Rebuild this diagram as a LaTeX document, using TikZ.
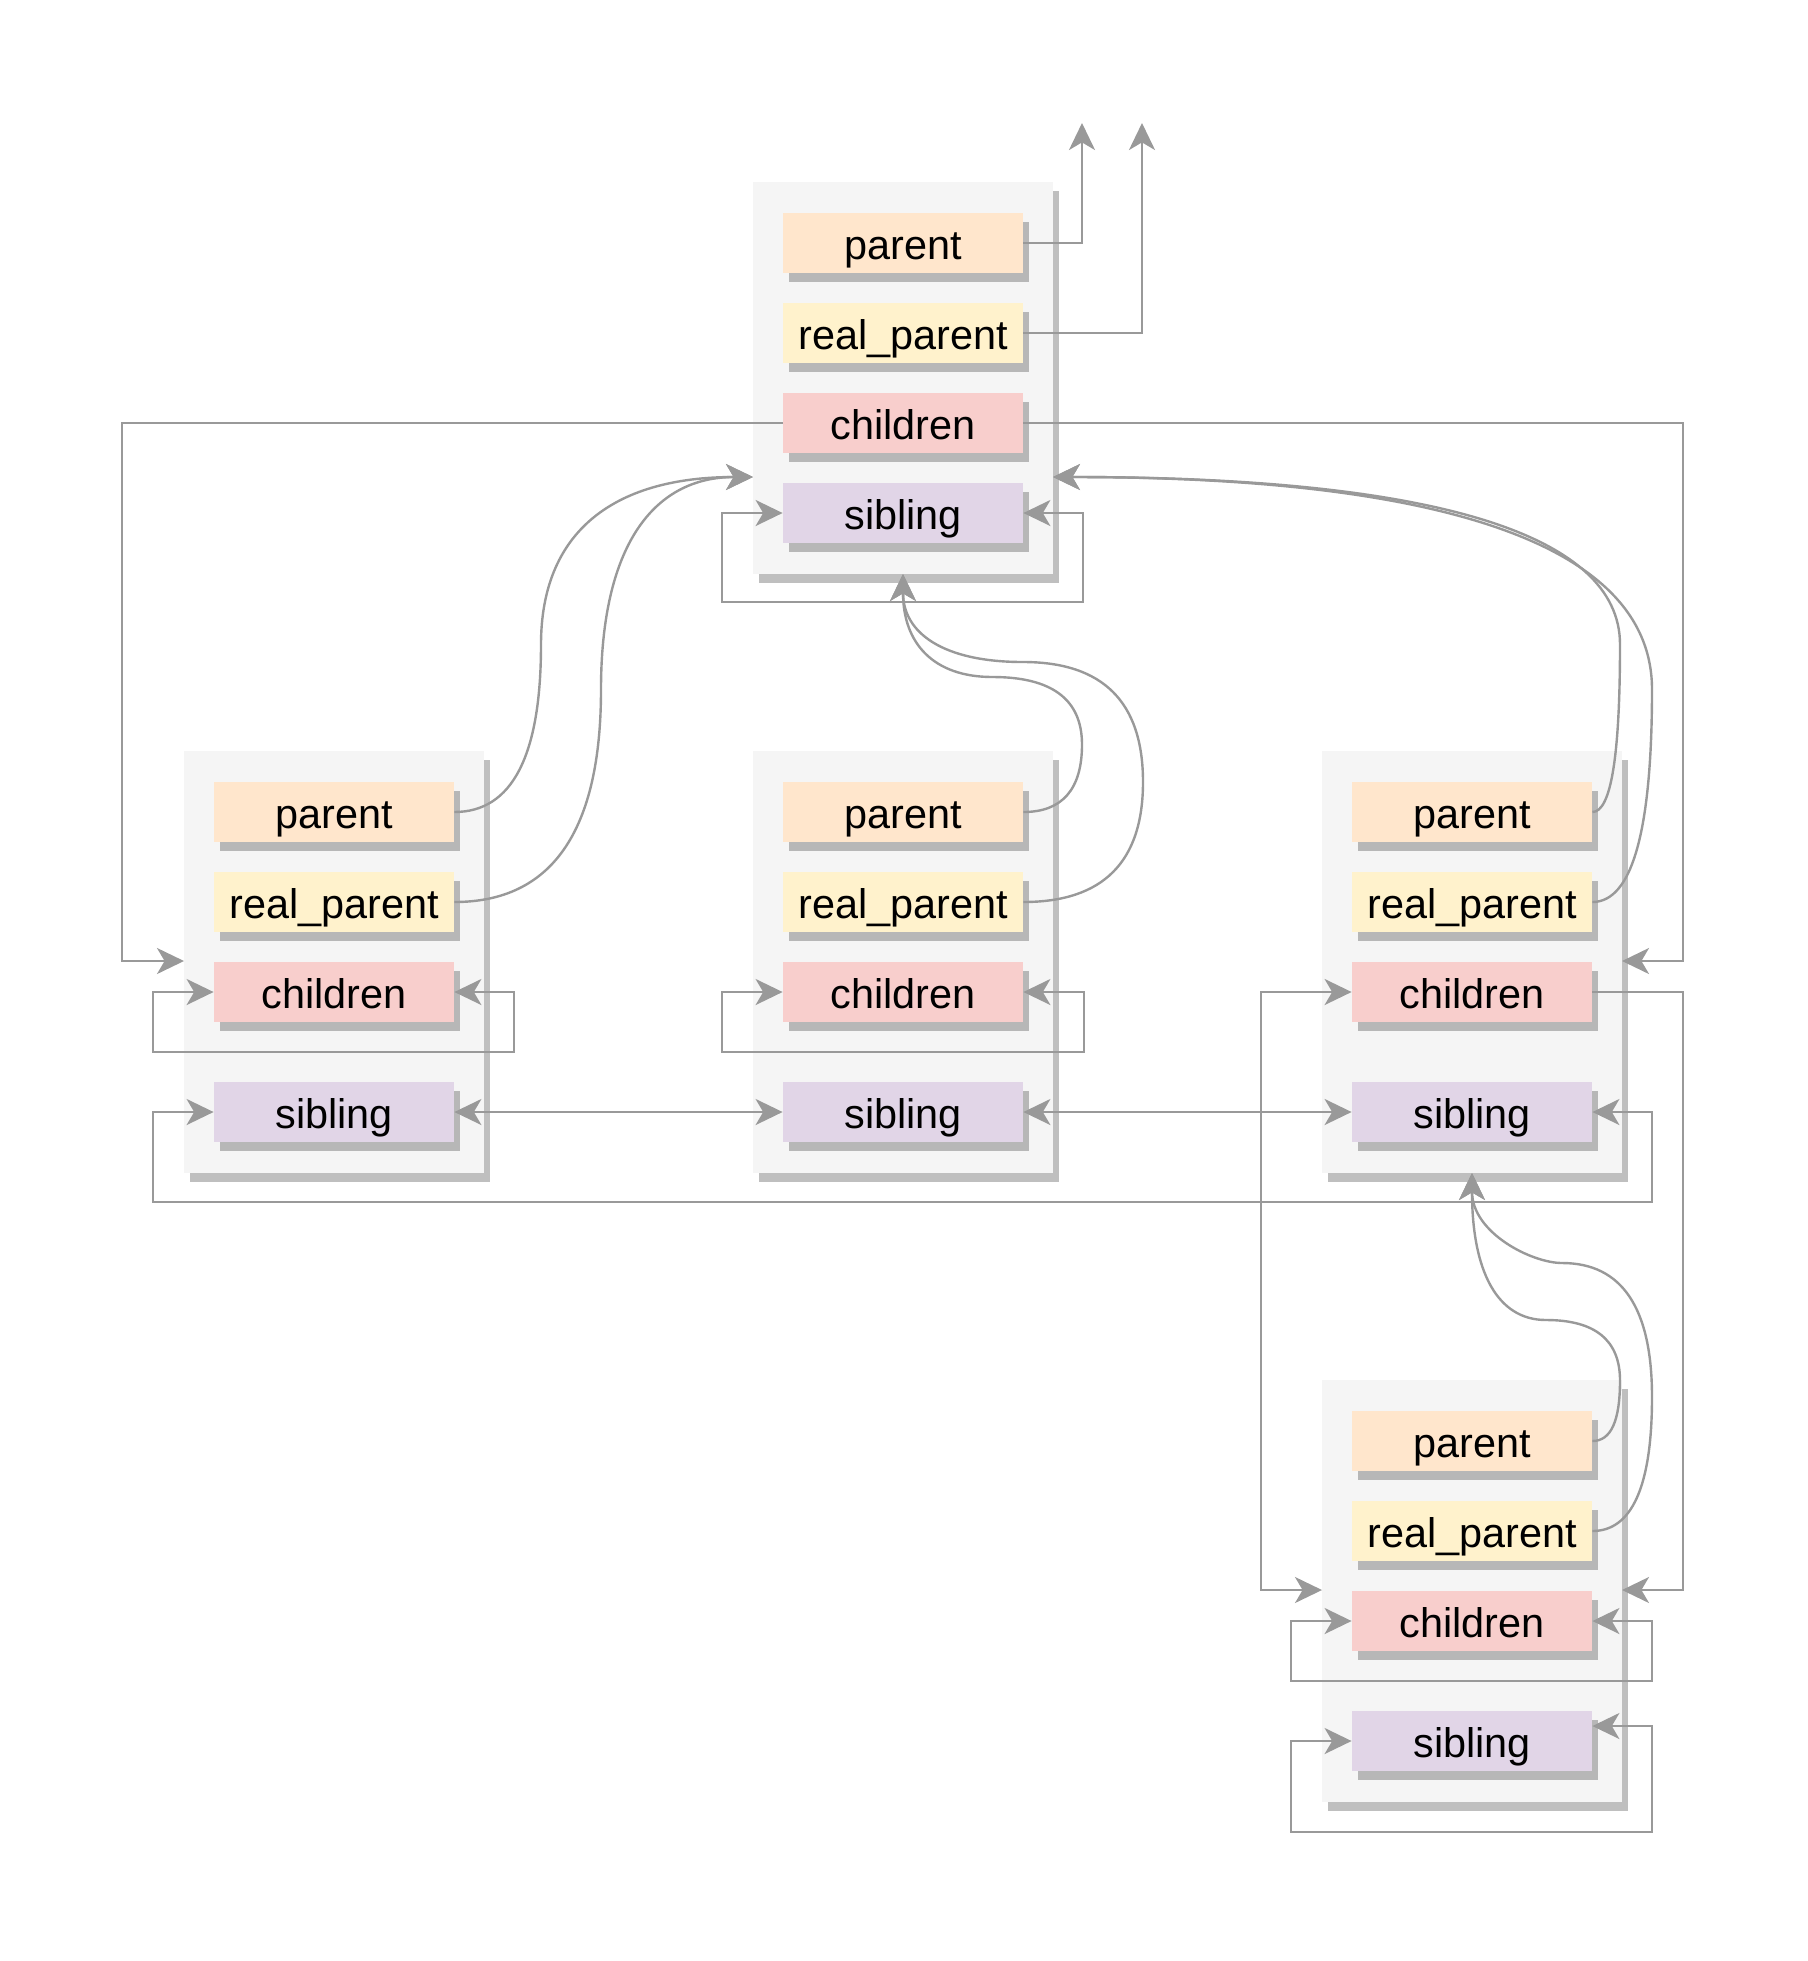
\documentclass[tikz,border=0pt]{standalone}
\usepackage{fontspec}
\setmainfont{Liberation Sans}
\usetikzlibrary{arrows.meta}
\definecolor{cbg}{HTML}{F5F5F5}
\definecolor{cpar}{HTML}{FFE6CC}
\definecolor{creal}{HTML}{FFF2CC}
\definecolor{cchi}{HTML}{F8CECC}
\definecolor{csib}{HTML}{E1D5E7}
\definecolor{linec}{HTML}{999999}
\tikzset{
  shd/.style={fill=black, fill opacity=0.25},
  contbox/.style={fill=cbg, draw=none, minimum width=150pt, inner sep=0pt},
  fieldbox/.style={draw=none, minimum width=120pt, minimum height=30pt, inner sep=0pt,
    text height=18pt, text depth=1.5pt, font=\fontsize{20.7pt}{24pt}\selectfont},
  tipa/.tip={Stealth[length=13.5pt,width=13pt,inset=3.8pt]},
  conn/.style={draw=linec, line width=1.2pt, -tipa},
  conn2/.style={draw=linec, line width=1.2pt, tipa-tipa}
}
\newcommand\fld[5]{%
  \fill[shd] ({#2-114},{#3-21}) rectangle ({#2+126},{#3+39});
  \node[fieldbox,fill=#4] (#1) at (#2,#3) {#5};}
\newcommand\cnt[4]{%
  \fill[shd] ({#2-144},{#3-#4/2+9}) rectangle ({#2+156},{#3+#4/2+9});
  \node[contbox, minimum height=#4*0.5pt] (#1) at (#2,#3) {};}
\begin{document}
\begin{tikzpicture}[x=0.5pt,y=-0.5pt]
\useasboundingbox (0,0) rectangle (1808,1961);
% containers
\cnt{TC}{903}{378}{392}
\cnt{LC}{334}{962}{422}
\cnt{MC}{903}{962}{422}
\cnt{RC}{1472}{962}{422}
\cnt{BC}{1472}{1591}{422}
% fields
\fld{Tp}{903}{243}{cpar}{parent}
\fld{Tr}{903}{333}{creal}{real\_parent}
\fld{Tc}{903}{423}{cchi}{children}
\fld{Ts}{903}{513}{csib}{sibling}
\fld{Lp}{334}{812}{cpar}{parent}
\fld{Lr}{334}{902}{creal}{real\_parent}
\fld{Lc}{334}{992}{cchi}{children}
\fld{Ls}{334}{1112}{csib}{sibling}
\fld{Mp}{903}{812}{cpar}{parent}
\fld{Mr}{903}{902}{creal}{real\_parent}
\fld{Mc}{903}{992}{cchi}{children}
\fld{Ms}{903}{1112}{csib}{sibling}
\fld{Rp}{1472}{812}{cpar}{parent}
\fld{Rr}{1472}{902}{creal}{real\_parent}
\fld{Rc}{1472}{992}{cchi}{children}
\fld{Rs}{1472}{1112}{csib}{sibling}
\fld{Bp}{1472}{1441}{cpar}{parent}
\fld{Br}{1472}{1531}{creal}{real\_parent}
\fld{Bc}{1472}{1621}{cchi}{children}
\fld{Bs}{1472}{1741}{csib}{sibling}
% coordinates
\coordinate (up1) at (1082,123);
\coordinate (up2) at (1142,123);
\coordinate (LCin) at (184,961);
\coordinate (RCin) at (1622,961);
\coordinate (wL) at (122,961);
\coordinate (wR) at (1683,961);
\coordinate (TCl) at (753,477);
\coordinate (TCr) at (1053,477);
\coordinate (TCb) at (903,574);
\coordinate (RCb) at (1472,1173);
\coordinate (BCl) at (1322,1590);
\coordinate (BCr) at (1622,1590);
\coordinate (rcw) at (1261,1590);
\coordinate (rce) at (1683,1590);
\coordinate (tsl) at (722,602);
\coordinate (tsr) at (1083,602);
\coordinate (lcl) at (153,1052);
\coordinate (lcr) at (514,1052);
\coordinate (mcl) at (722,1052);
\coordinate (mcr) at (1084,1052);
\coordinate (bcl) at (1291,1681);
\coordinate (bcr) at (1652,1681);
\coordinate (bsl) at (1291,1832);
\coordinate (bsr) at (1652,1832);
\coordinate (sl) at (153,1202);
\coordinate (sr) at (1652,1202);
% orthogonal connectors
\draw[conn] (Tp.east) -| (up1);
\draw[conn] (Tr.east) -| (up2);
\draw[conn] (Tc.west) -| (wL) -- (LCin);
\draw[conn] (Tc.east) -| (wR) -- (RCin);
\draw[conn2] (Ts.west) -| (tsl) -- (tsr) |- (Ts.east);
\draw[conn2] (Lc.west) -| (lcl) -- (lcr) |- (Lc.east);
\draw[conn2] (Mc.west) -| (mcl) -- (mcr) |- (Mc.east);
\draw[conn2] (Bc.west) -| (bcl) -- (bcr) |- (Bc.east);
\draw[conn2] (Bs.west) -| (bsl) -- (bsr) |- ([yshift=7.5pt]Bs.east);
\draw[conn2] (Ls.west) -| (sl) -- (sr) |- (Rs.east);
\draw[conn2] (Ls.east) -- (Ms.west);
\draw[conn2] (Ms.east) -- (Rs.west);
\draw[conn2] (Rc.west) -| (rcw) -- (BCl);
\draw[conn] (Rc.east) -| (rce) -- (BCr);
% curved connectors
\draw[conn] (Lp.east) .. controls (512,812) and (541,756) .. (541,644.5)
  .. controls (541,533) and (612,477) .. (TCl);
\draw[conn] (Lr.east) .. controls (552,902) and (601,831) .. (601,689.5)
  .. controls (601,548) and (652,477) .. (TCl);
\draw[conn] (Rp.east) .. controls (1611,812) and (1620,756) .. (1620,644.5)
  .. controls (1620,533) and (1431,477) .. (TCr);
\draw[conn] (Rr.east) .. controls (1632,902) and (1652,831) .. (1652,689.5)
  .. controls (1652,548) and (1452,477) .. (TCr);
\draw[conn] (Mp.east) .. controls (1062,812) and (1082,789.5) .. (1082,744.5)
  .. controls (1082,699.5) and (1052,677) .. (992.5,677)
  .. controls (933,677) and (903,643) .. (TCb);
\draw[conn] (Mr.east) .. controls (1103,902) and (1143,862) .. (1143,782)
  .. controls (1143,702) and (1103,662) .. (1023,662)
  .. controls (943,662) and (903,633) .. (TCb);
\draw[conn] (Bp.east) .. controls (1611,1441) and (1620,1421) .. (1620,1380.5)
  .. controls (1620,1340) and (1595,1320) .. (1546,1320)
  .. controls (1497,1320) and (1472,1271) .. (RCb);
\draw[conn] (Br.east) .. controls (1632,1531) and (1652,1486) .. (1652,1397)
  .. controls (1652,1308) and (1622,1263) .. (1562,1263)
  .. controls (1532,1263) and (1472,1233) .. (RCb);
\end{tikzpicture}
\end{document}
